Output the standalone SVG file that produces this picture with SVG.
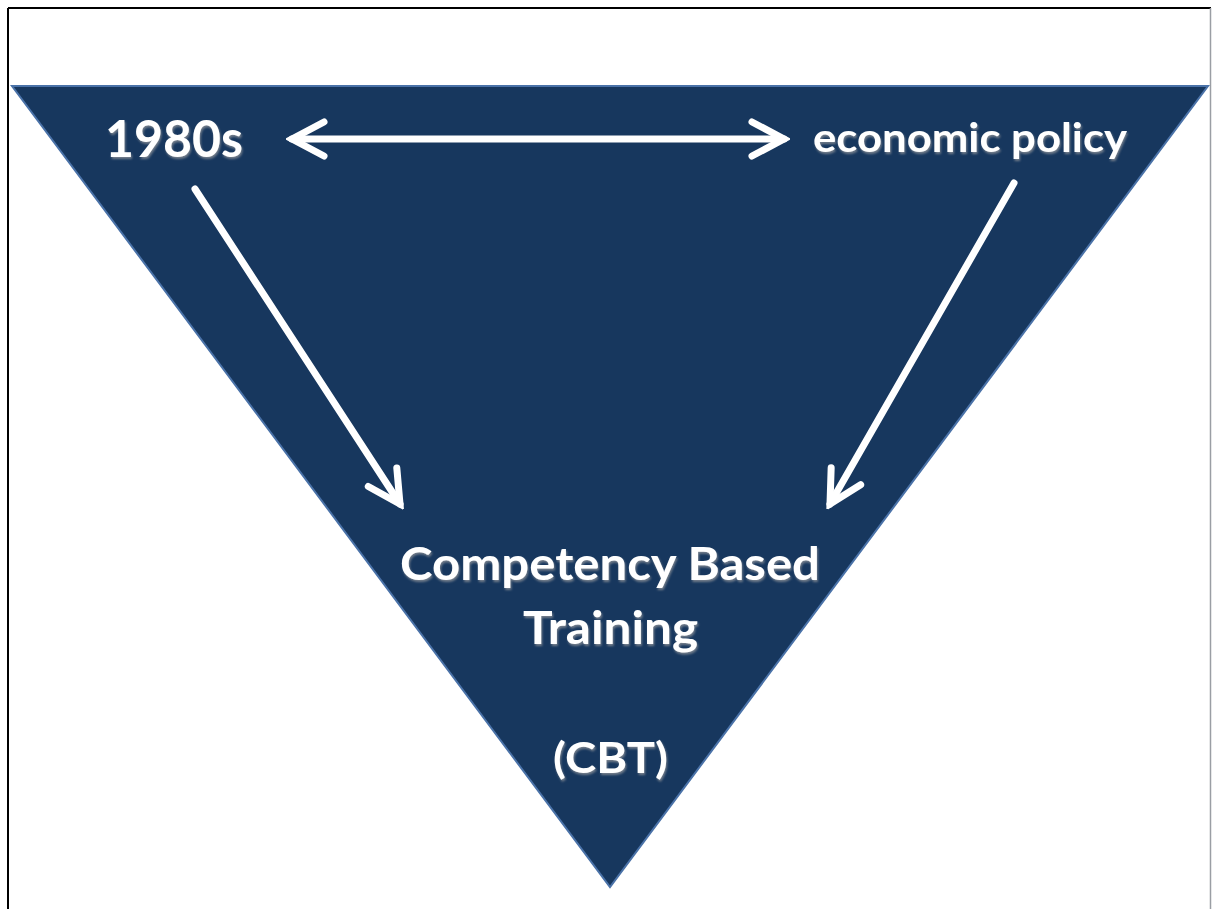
<svg xmlns="http://www.w3.org/2000/svg" width="1212" height="909" viewBox="0 0 1212 909">
  <defs>
    <style>
      .lbl { font-family: Lato, "Open Sans", "Liberation Sans", sans-serif; font-weight: bold; fill: #ffffff; filter: url(#emboss); }
      .link { stroke: #ffffff; stroke-width: 7; stroke-linecap: round; fill: none; }
    </style>
    <filter id="emboss" x="-5%" y="-20%" width="110%" height="140%">
      <feGaussianBlur in="SourceAlpha" stdDeviation="1"/>
      <feOffset dx="1" dy="2" result="sh"/>
      <feFlood flood-color="#8a8f96" flood-opacity="0.8"/>
      <feComposite in2="sh" operator="in" result="shadow"/>
      <feMerge>
        <feMergeNode in="shadow"/>
        <feMergeNode in="SourceGraphic"/>
      </feMerge>
    </filter>
    <marker id="chev" viewBox="-40 -22 46 44" markerUnits="userSpaceOnUse" markerWidth="46" markerHeight="44" refX="0" refY="0" orient="auto-start-reverse">
      <path d="M -32 -17 L 0 0 L -32 17" fill="none" stroke="#ffffff" stroke-width="7" stroke-linecap="round" stroke-linejoin="miter"/>
    </marker>
  </defs>

  <rect width="1212" height="909" fill="#ffffff"/>

  <!-- page frame -->
  <g id="frame">
    <line x1="8" y1="8" x2="1211" y2="8" stroke="#000000" stroke-width="2"/>
    <line x1="8" y1="8" x2="8" y2="909" stroke="#000000" stroke-width="2"/>
    <line x1="1210.5" y1="8" x2="1210.5" y2="909" stroke="#9a9ea4" stroke-width="1.5"/>
  </g>

  <!-- inverted triangle background -->
  <g id="triangle">
    <polygon points="12,86 1208,86 610,887" fill="#17375e" stroke="#4a72a8" stroke-width="2" stroke-linejoin="miter"/>
  </g>

  <!-- connectors -->
  <g id="connectors">
    <line class="link" x1="292" y1="139" x2="784" y2="139" marker-start="url(#chev)" marker-end="url(#chev)"/>
    <line class="link" x1="195" y1="189" x2="400" y2="504" marker-end="url(#chev)"/>
    <line class="link" x1="1014" y1="183" x2="830" y2="504" marker-end="url(#chev)"/>
  </g>

  <g id="node-1980s">
    <text class="lbl" x="105" y="157" font-size="52" textLength="138" lengthAdjust="spacingAndGlyphs">1980s</text>
  </g>

  <g id="node-economic-policy">
    <text class="lbl" x="813" y="152" font-size="40" textLength="314" lengthAdjust="spacingAndGlyphs">economic policy</text>
  </g>

  <g id="node-cbt">
    <text class="lbl" x="400" y="580" font-size="46" textLength="420" lengthAdjust="spacingAndGlyphs">Competency Based</text>
    <text class="lbl" x="523" y="644" font-size="46" textLength="175" lengthAdjust="spacingAndGlyphs">Training</text>
    <text class="lbl" x="553" y="773" font-size="42" textLength="115" lengthAdjust="spacingAndGlyphs">(CBT)</text>
  </g>
</svg>
